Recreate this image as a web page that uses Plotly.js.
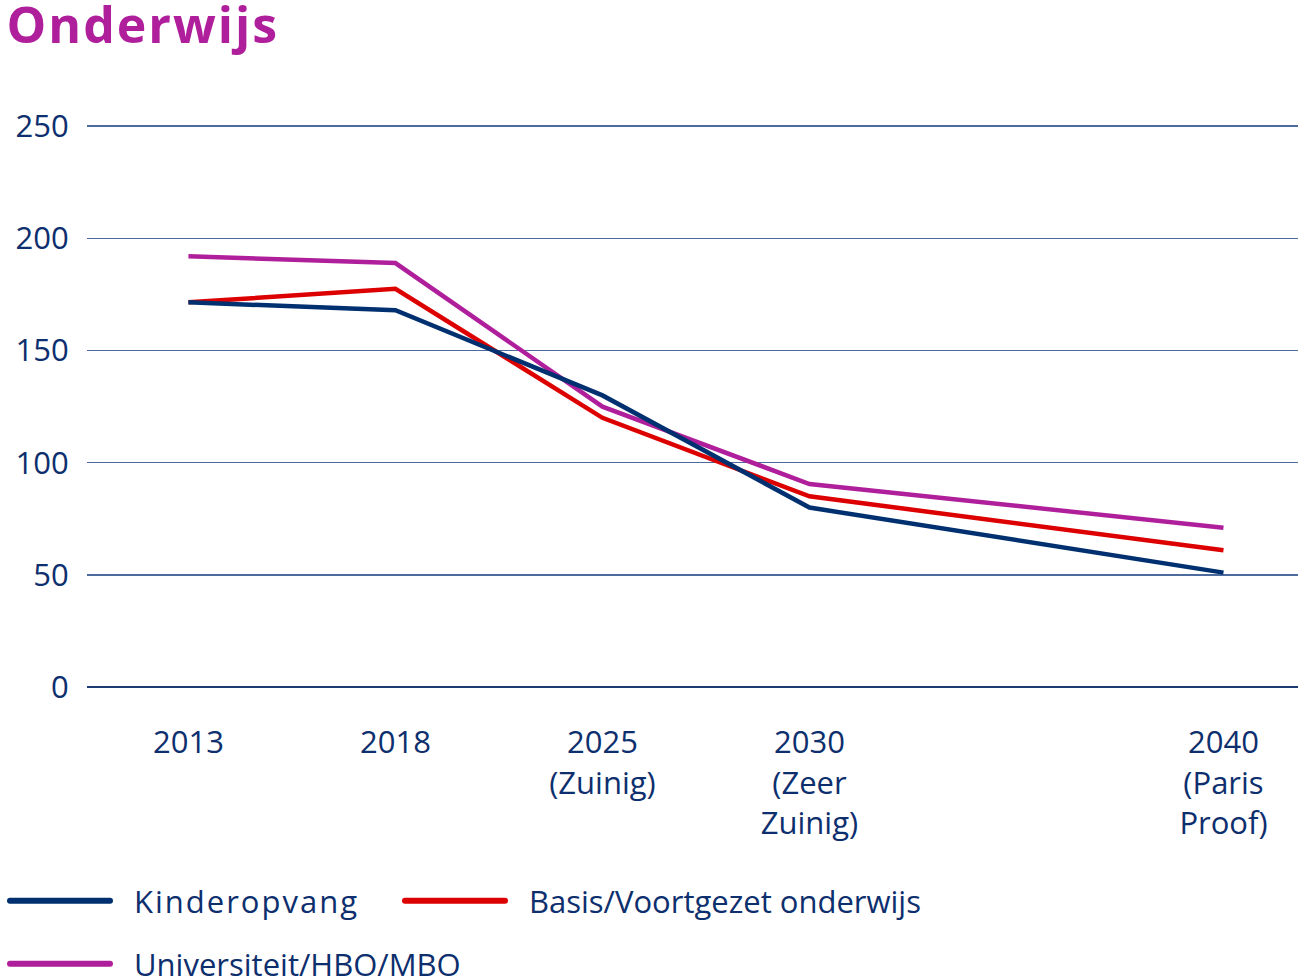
<!DOCTYPE html>
<html>
<head>
<meta charset="utf-8">
<script src="https://cdn.plot.ly/plotly-3.0.1.min.js"></script>
<style>
html,body{margin:0;padding:0;background:#fff;}
#chart{width:1301px;height:980px;}
.legendtext{letter-spacing:2px;}
.gtitle{letter-spacing:2px;}
.legendlines path{stroke-width:6px !important;stroke-linecap:round;stroke-dasharray:100 3000 !important;}
</style>
</head>
<body>
<div id="chart"></div>
<script>
// Categories (the blank entry is an empty slot on the axis, as in the original chart)
var categories = ['2013', '2018', '2025<br>(Zuinig)', '2030<br>(Zeer<br>Zuinig)', ' ', '2040<br>(Paris<br>Proof)'];
var pointCategories = ['2013', '2018', '2025<br>(Zuinig)', '2030<br>(Zeer<br>Zuinig)', '2040<br>(Paris<br>Proof)'];

var seriesNames = ['Kinderopvang', 'Basis/Voortgezet onderwijs', 'Universiteit/HBO/MBO'];
var kinderopvang = [171.5, 168, 130, 80, 51];
var basisVoortgezet = [171.5, 177.5, 120, 85, 61];
var universiteit = [192, 189, 125, 90.5, 71];
var seriesColors = ['#00306f', '#dd0000', '#b01f9b'];

var navy = '#0d2f6e';
var font = '"Open Sans", "Noto Sans", sans-serif';

var seriesValues = [kinderopvang, basisVoortgezet, universiteit];
var legendIds = ['legend', 'legend3', 'legend2'];
var traces = [];
// drawn in reverse so the navy line lies on top, as in the original
for (var i = seriesValues.length - 1; i >= 0; i--) {
  traces.push({
    type: 'scatter',
    mode: 'lines',
    name: seriesNames[i],
    x: pointCategories,
    y: seriesValues[i],
    line: {color: seriesColors[i], width: 4.5},
    legend: legendIds[i],
    hoverinfo: 'skip'
  });
}

function legendBox(xpx, ypx) {
  return {
    orientation: 'h',
    xref: 'container', x: xpx / 1301, xanchor: 'left',
    yref: 'container', y: 1 - ypx / 980, yanchor: 'middle',
    itemwidth: 119,
    font: {family: font, size: 31, color: navy},
    bgcolor: 'rgba(0,0,0,0)'
  };
}

var layout = {
  width: 1301,
  height: 980,
  paper_bgcolor: '#ffffff',
  plot_bgcolor: '#ffffff',
  margin: {l: 87, r: 3, t: 124, b: 293},
  font: {family: font, color: navy, size: 31},
  title: {
    text: 'Onderwijs',
    font: {family: font, size: 50, color: '#b01f9b', weight: 700},
    xref: 'container', x: 0.005, xanchor: 'left',
    yref: 'container', y: 0.974, yanchor: 'middle'
  },
  xaxis: {
    type: 'category',
    categoryorder: 'array',
    categoryarray: categories,
    range: [-0.49, 5.36],
    showgrid: false,
    showline: false,
    zeroline: false,
    ticks: 'outside',
    ticklen: 28,
    tickcolor: 'rgba(0,0,0,0)',
    tickfont: {family: font, size: 31, color: navy}
  },
  yaxis: {
    range: [0, 251],
    tickvals: [0, 50, 100, 150, 200, 250],
    showgrid: true,
    gridcolor: '#4d6b9c',
    gridwidth: 1.5,
    zeroline: true,
    zerolinecolor: '#1d3a72',
    zerolinewidth: 1.5,
    showline: false,
    ticks: 'outside',
    ticklen: 11,
    tickcolor: 'rgba(0,0,0,0)',
    tickfont: {family: font, size: 31, color: navy}
  },
  showlegend: true,
  legend: legendBox(5, 901),
  legend3: legendBox(400, 901),
  legend2: legendBox(5, 964)
};

Plotly.newPlot('chart', traces, layout, {displayModeBar: false, staticPlot: true});
</script>
</body>
</html>
